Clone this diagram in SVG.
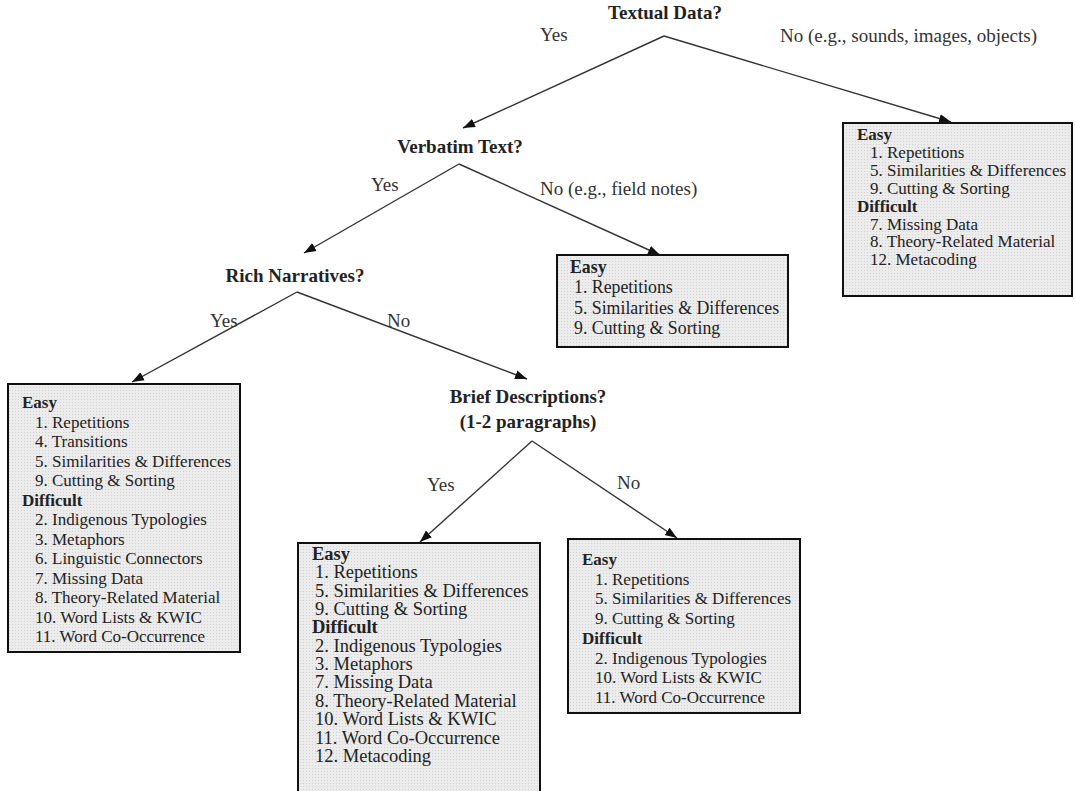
<svg xmlns="http://www.w3.org/2000/svg" width="1075" height="791" viewBox="0 0 1075 791">
<defs>
<marker id="arr" viewBox="0 0 12 10" refX="12" refY="5" markerWidth="12" markerHeight="10" markerUnits="userSpaceOnUse" orient="auto">
<path d="M0,0.5 L12,5 L0,9.5 z" fill="#111"/>
</marker>
<pattern id="dots" width="3" height="3" patternUnits="userSpaceOnUse">
<rect width="3" height="3" fill="#ececec"/>
<rect width="1" height="1" fill="#d2d2d2"/>
</pattern>
</defs>
<style>
.q{font-family:"Liberation Serif","Times New Roman",serif;font-weight:bold;font-size:19px;fill:#222;text-anchor:middle}
.lb{font-family:"Liberation Serif","Times New Roman",serif;font-size:19px;fill:#333}
.bx{fill:url(#dots);stroke:#111;stroke-width:2}
.t{font-family:"Liberation Serif","Times New Roman",serif;font-size:17px;fill:#222}
.tm{font-size:17.8px}
.tl{font-size:18.5px}
.h{font-weight:bold}
.c{fill:none;stroke:#333;stroke-width:1.4;marker-end:url(#arr)}
</style>
<rect width="1075" height="791" fill="#fff"/>

<g id="connectors">
<line class="c" x1="664" y1="36" x2="463" y2="128"/>
<line class="c" x1="664" y1="36" x2="951" y2="122"/>
<line class="c" x1="459" y1="164" x2="304" y2="253"/>
<line class="c" x1="459" y1="164" x2="660" y2="255"/>
<line class="c" x1="297" y1="292" x2="132" y2="382"/>
<line class="c" x1="297" y1="292" x2="527" y2="379"/>
<line class="c" x1="532" y1="441" x2="420" y2="542"/>
<line class="c" x1="532" y1="441" x2="677" y2="538"/>
<text class="lb" x="540" y="41">Yes</text>
<text class="lb" x="780" y="42">No (e.g., sounds, images, objects)</text>
<text class="lb" x="371" y="191">Yes</text>
<text class="lb" x="540" y="195">No (e.g., field notes)</text>
<text class="lb" x="210" y="327">Yes</text>
<text class="lb" x="387" y="327">No</text>
<text class="lb" x="427" y="491">Yes</text>
<text class="lb" x="617" y="489">No</text>
</g>

<g id="q-textual"><text class="q" x="665" y="19">Textual Data?</text></g>
<g id="q-verbatim"><text class="q" x="460" y="153">Verbatim Text?</text></g>
<g id="q-rich"><text class="q" x="295" y="282">Rich Narratives?</text></g>
<g id="q-brief"><text class="q" x="528" y="403">Brief Descriptions?</text><text class="q" x="528" y="428">(1-2 paragraphs)</text></g>

<g id="box-nontext">
<rect class="bx" x="843" y="123" width="229" height="173"/>
<text class="t"><tspan class="h" x="857" y="140">Easy</tspan><tspan x="870" dy="17.9">1. Repetitions</tspan><tspan x="870" dy="17.9">5. Similarities &amp; Differences</tspan><tspan x="870" dy="17.9">9. Cutting &amp; Sorting</tspan><tspan class="h" x="857" dy="17.9">Difficult</tspan><tspan x="870" dy="17.9">7. Missing Data</tspan><tspan x="870" dy="17.9">8. Theory-Related Material</tspan><tspan x="870" dy="17.9">12. Metacoding</tspan></text>
</g>

<g id="box-fieldnotes">
<rect class="bx" x="557" y="255" width="231" height="92"/>
<text class="t tm"><tspan class="h" x="570" y="273">Easy</tspan><tspan x="574" dy="20.3">1. Repetitions</tspan><tspan x="574" dy="20.3">5. Similarities &amp; Differences</tspan><tspan x="574" dy="20.3">9. Cutting &amp; Sorting</tspan></text>
</g>

<g id="box-rich">
<rect class="bx" x="8" y="384" width="232" height="268"/>
<text class="t"><tspan class="h" x="22" y="408">Easy</tspan><tspan x="35" dy="19.5">1. Repetitions</tspan><tspan x="35" dy="19.5">4. Transitions</tspan><tspan x="35" dy="19.5">5. Similarities &amp; Differences</tspan><tspan x="35" dy="19.5">9. Cutting &amp; Sorting</tspan><tspan class="h" x="22" dy="19.5">Difficult</tspan><tspan x="35" dy="19.5">2. Indigenous Typologies</tspan><tspan x="35" dy="19.5">3. Metaphors</tspan><tspan x="35" dy="19.5">6. Linguistic Connectors</tspan><tspan x="35" dy="19.5">7. Missing Data</tspan><tspan x="35" dy="19.5">8. Theory-Related Material</tspan><tspan x="35" dy="19.5">10. Word Lists &amp; KWIC</tspan><tspan x="35" dy="19.5">11. Word Co-Occurrence</tspan></text>
</g>

<g id="box-brief-yes">
<rect class="bx" x="298" y="543" width="242" height="262"/>
<text class="t tl"><tspan class="h" x="312" y="560">Easy</tspan><tspan x="315" dy="18.35">1. Repetitions</tspan><tspan x="315" dy="18.35">5. Similarities &amp; Differences</tspan><tspan x="315" dy="18.35">9. Cutting &amp; Sorting</tspan><tspan class="h" x="312" dy="18.35">Difficult</tspan><tspan x="315" dy="18.35">2. Indigenous Typologies</tspan><tspan x="315" dy="18.35">3. Metaphors</tspan><tspan x="315" dy="18.35">7. Missing Data</tspan><tspan x="315" dy="18.35">8. Theory-Related Material</tspan><tspan x="315" dy="18.35">10. Word Lists &amp; KWIC</tspan><tspan x="315" dy="18.35">11. Word Co-Occurrence</tspan><tspan x="315" dy="18.35">12. Metacoding</tspan></text>
</g>

<g id="box-brief-no">
<rect class="bx" x="568" y="539" width="232" height="174"/>
<text class="t"><tspan class="h" x="582" y="565">Easy</tspan><tspan x="595" dy="19.7">1. Repetitions</tspan><tspan x="595" dy="19.7">5. Similarities &amp; Differences</tspan><tspan x="595" dy="19.7">9. Cutting &amp; Sorting</tspan><tspan class="h" x="582" dy="19.7">Difficult</tspan><tspan x="595" dy="19.7">2. Indigenous Typologies</tspan><tspan x="595" dy="19.7">10. Word Lists &amp; KWIC</tspan><tspan x="595" dy="19.7">11. Word Co-Occurrence</tspan></text>
</g>
</svg>
